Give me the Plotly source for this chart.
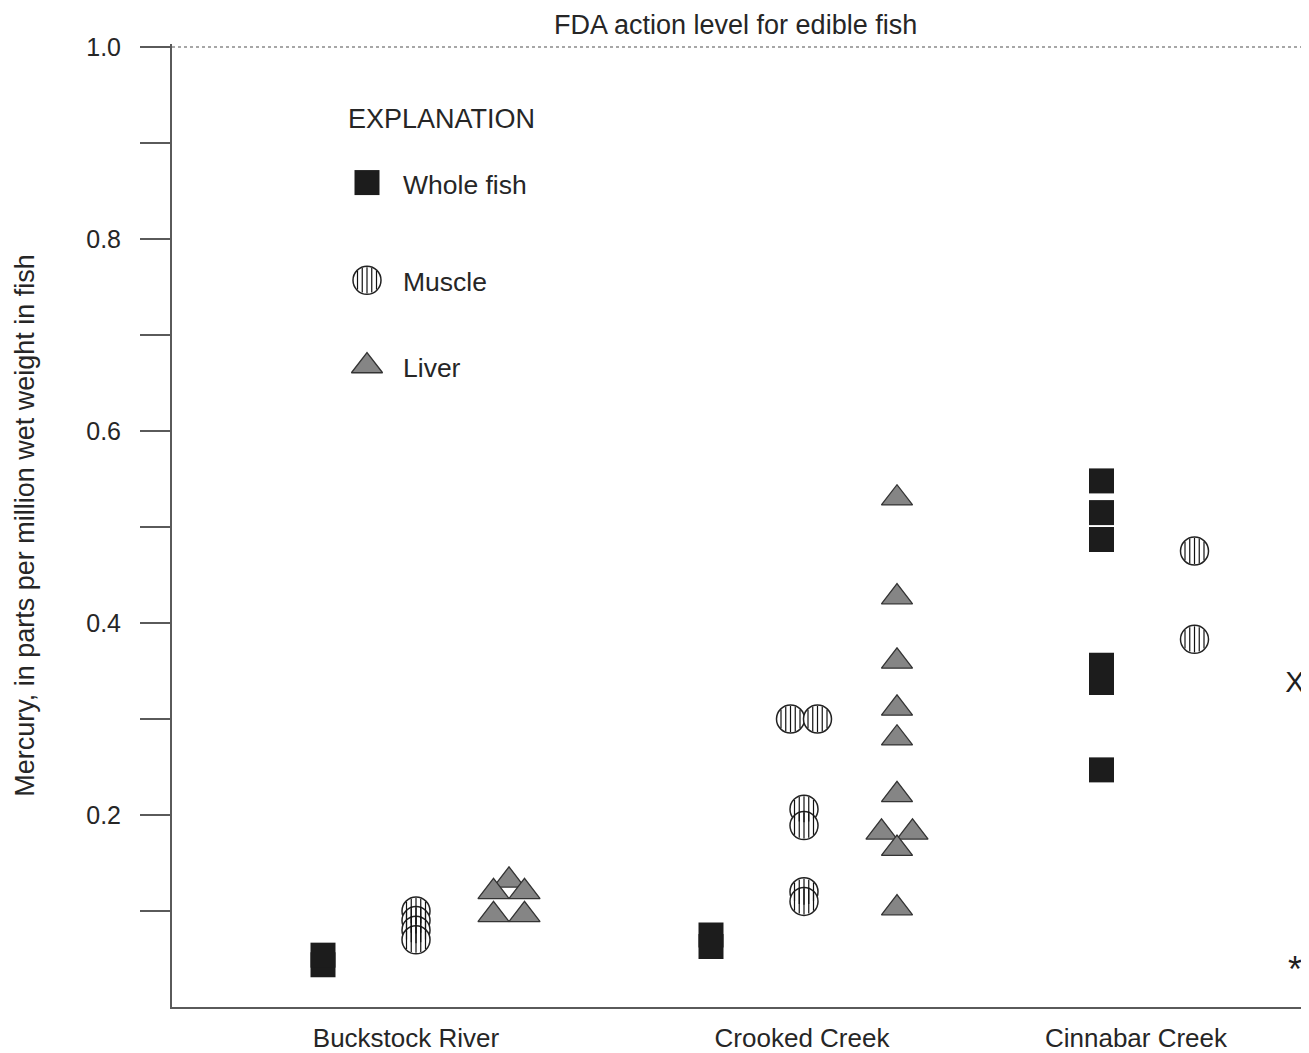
import plotly.graph_objects as go
import math

# ---------------- data (mercury, ppm wet weight) ----------------
SITES = ["Buckstock River", "Crooked Creek", "Cinnabar Creek"]
TISSUES = ["Whole fish", "Muscle", "Liver"]

buckstock_whole = [0.044, 0.054]
buckstock_muscle = [0.100, 0.090, 0.080, 0.070]
buckstock_liver = [0.132, 0.120, 0.120, 0.096, 0.096]

crooked_whole = [0.063, 0.075]
crooked_muscle = [0.300, 0.300, 0.206, 0.189, 0.120, 0.110]
crooked_liver = [0.530, 0.427, 0.360, 0.311, 0.280, 0.221, 0.182, 0.182, 0.165, 0.103]

cinnabar_whole = [0.548, 0.515, 0.487, 0.356, 0.338, 0.247]
cinnabar_muscle = [0.475, 0.383]
cinnabar_liver = []

FDA_ACTION_LEVEL = 1.0
side_marks = ["X", "*"]
side_mark_values = [0.336, 0.035]

y_tick_values = [0.1, 0.2, 0.3, 0.4, 0.5, 0.6, 0.7, 0.8, 0.9, 1.0]
y_tick_labels = ["", "0.2", "", "0.4", "", "0.6", "", "0.8", "", "1.0"]

# ---------------- layout / style constants ----------------
WIN_W, WIN_H = 1309, 1053
BODY = 8                                   # default page margin of the html body
W, H = WIN_W - BODY, WIN_H - BODY
ML, MR, MT, MB = 172 - BODY, 0, 44 - BODY, 43
PLOT_W = W - ML - MR
PLOT_H = H - MT - MB
X_PX = 100.0                      # px per x unit
Y_PX = 963.0                      # px per y unit
X_RANGE = [0, PLOT_W / X_PX]
Y_RANGE = [0, PLOT_H / Y_PX]

SITE_CENTER = [2.44, 6.32, 9.76]
LABEL_X = [2.34, 6.30, 9.64]
TISSUE_STEP = 0.93
FONT = "Liberation Sans, Arial, sans-serif"
TXT = "#262626"
AXC = "#5a5a5a"

STYLE = {
    "Whole fish": dict(symbol="square", size=25, color="#1c1c1c", line=dict(width=0, color="#1c1c1c")),
    "Muscle": dict(symbol="circle", size=28, color="white", line=dict(width=1.5, color="#222")),
    "Liver": dict(symbol="triangle-up", size=27, color="#858585", line=dict(width=1.3, color="#333")),
}
DODGE_PX = {"Whole fish": 26, "Muscle": 27, "Liver": 31}
STRIPE_OFFSETS_PX = [-9.5, -4.75, 0, 4.75, 9.5]
LINE_SYMBOL_SCALE = 1.4           # plotly line-ns symbols span 1.4 * size

data = {
    "Buckstock River": {"Whole fish": buckstock_whole, "Muscle": buckstock_muscle, "Liver": buckstock_liver},
    "Crooked Creek": {"Whole fish": crooked_whole, "Muscle": crooked_muscle, "Liver": crooked_liver},
    "Cinnabar Creek": {"Whole fish": cinnabar_whole, "Muscle": cinnabar_muscle, "Liver": cinnabar_liver},
}

fig = go.Figure()


def positions(site_idx, site):
    present = [t for t in TISSUES if data[site][t]]
    n = len(present)
    return {t: SITE_CENTER[site_idx] + (k - (n - 1) / 2) * TISSUE_STEP for k, t in enumerate(present)}


def dodge(values, base, step):
    xs = []
    for i, v in enumerate(values):
        same = [j for j, w in enumerate(values) if round(w, 3) == round(v, 3)]
        m = len(same)
        j = same.index(i)
        xs.append(base + (j - (m - 1) / 2) * step)
    return xs


def add_points(xs, ys, tissue, name, xaxis="x", yaxis="y", px_per_x=X_PX):
    st = STYLE[tissue]
    fig.add_trace(go.Scatter(
        x=xs, y=ys, mode="markers", name=name, showlegend=False,
        xaxis=xaxis, yaxis=yaxis, cliponaxis=False,
        marker=dict(symbol=st["symbol"], size=st["size"], color=st["color"], line=st["line"]),
        hovertemplate="%{y:.3f} ppm<extra>" + name + "</extra>",
    ))
    if tissue == "Muscle":
        r = st["size"] / 2.0
        for off in STRIPE_OFFSETS_PX:
            chord = 2 * math.sqrt(max(r * r - off * off, 0)) - 2
            fig.add_trace(go.Scatter(
                x=[x + off / px_per_x for x in xs], y=ys, mode="markers",
                showlegend=False, hoverinfo="skip", xaxis=xaxis, yaxis=yaxis, cliponaxis=False,
                marker=dict(symbol="line-ns", size=chord / LINE_SYMBOL_SCALE, color="#111",
                            line=dict(width=1.2, color="#111")),
            ))


for si, site in enumerate(SITES):
    pos = positions(si, site)
    for tissue in TISSUES:
        vals = data[site][tissue]
        if not vals:
            continue
        xs = dodge(vals, pos[tissue], DODGE_PX[tissue] / X_PX)
        add_points(xs, vals, tissue, f"{site} – {tissue}")

# right-hand marks
fig.add_trace(go.Scatter(
    x=[X_RANGE[1] - 0.14] * len(side_marks), y=side_mark_values, mode="text",
    text=side_marks, textposition="middle center", showlegend=False, cliponaxis=False,
    textfont=dict(family=FONT, size=[29, 36], color="#1e1e1e"), hoverinfo="skip",
))

# ---------------- manual explanation (legend) on a window-pixel overlay axis ----------------
LEG_KEY_X = 367
LEG_TEXT_X = 401
LEG_Y = {"Whole fish": 183, "Muscle": 281, "Liver": 367}
for t in TISSUES:
    add_points([LEG_KEY_X], [LEG_Y[t]], t, t, xaxis="x2", yaxis="y2", px_per_x=1.0)

annotations = [
    dict(x=346, y=119, xref="x2", yref="y2", text="EXPLANATION", showarrow=False,
         xanchor="left", yanchor="middle", font=dict(family=FONT, size=27, color=TXT)),
]
for t in TISSUES:
    annotations.append(dict(x=LEG_TEXT_X, y=LEG_Y[t] + 2, xref="x2", yref="y2", text=t, showarrow=False,
                            xanchor="left", yanchor="middle", font=dict(family=FONT, size=26.5, color=TXT)))
annotations.append(dict(x=(735 - 172) / PLOT_W, y=FDA_ACTION_LEVEL, xref="paper", yref="y",
                        text="FDA action level for edible fish", showarrow=False,
                        xanchor="center", yanchor="bottom", yshift=5,
                        font=dict(family=FONT, size=27, color=TXT)))

shapes = [dict(type="line", xref="paper", x0=0, x1=1, yref="y", y0=FDA_ACTION_LEVEL, y1=FDA_ACTION_LEVEL,
               line=dict(color="#8a8a8a", width=1.6, dash="dot"))]

fig.update_layout(
    width=W, height=H,
    margin=dict(l=ML, r=MR, t=MT, b=MB),
    paper_bgcolor="white", plot_bgcolor="white",
    font=dict(family=FONT, color=TXT),
    xaxis=dict(range=X_RANGE, showgrid=False, zeroline=False, showline=True, linecolor=AXC, linewidth=2,
               tickmode="array", tickvals=LABEL_X, ticktext=SITES, ticks="",
               tickfont=dict(family=FONT, size=26, color=TXT), ticklabelstandoff=7, fixedrange=True),
    yaxis=dict(range=Y_RANGE, showgrid=False, zeroline=False, showline=True, linecolor=AXC, linewidth=2,
               tickmode="array", tickvals=y_tick_values, ticktext=y_tick_labels,
               ticks="outside", ticklen=30, tickwidth=2, tickcolor=AXC,
               tickfont=dict(family=FONT, size=25, color=TXT), ticklabelstandoff=14,
               title=dict(text="Mercury, in parts per million wet weight in fish",
                          font=dict(family=FONT, size=27, color=TXT), standoff=44),
               fixedrange=True),
    xaxis2=dict(range=[ML + BODY, W + BODY - MR], overlaying="x", anchor="y2", visible=False, fixedrange=True),
    yaxis2=dict(range=[H + BODY - MB, MT + BODY], overlaying="y", anchor="x2", visible=False, fixedrange=True),
    annotations=annotations,
    shapes=shapes,
    showlegend=False,
)

fig.write_html("out.html")
